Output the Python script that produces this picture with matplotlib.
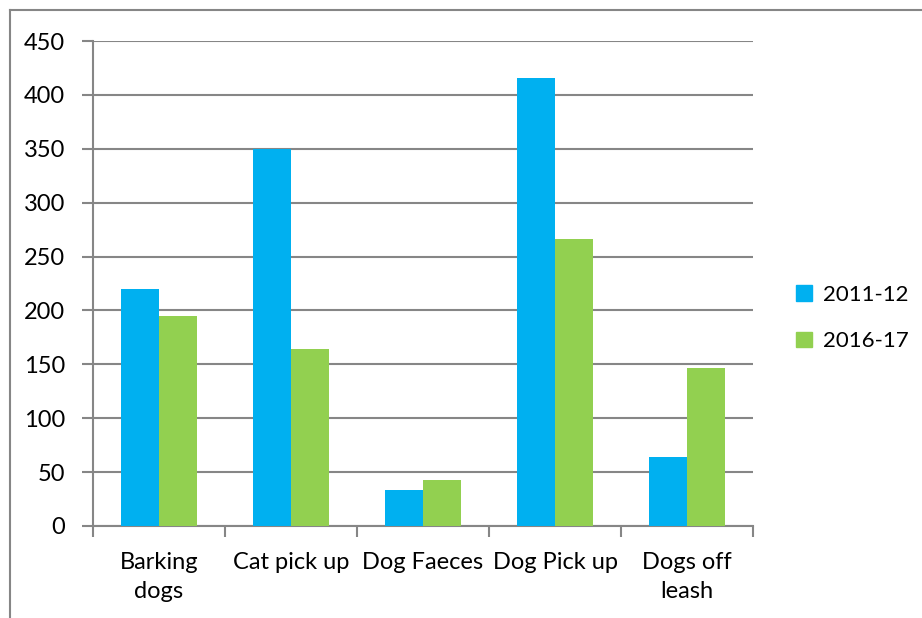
import numpy as np
import matplotlib.pyplot as plt
from matplotlib.patches import Patch
from matplotlib.lines import Line2D

# data
categories = ['Barking\ndogs', 'Cat pick up', 'Dog Faeces', 'Dog Pick up', 'Dogs off\nleash']
series_names = ['2011-12', '2016-17']
values_2011 = [220, 350, 33, 416, 64]
values_2016 = [195, 164, 43, 266, 147]
colors = ['#00B0F0', '#92D050']

plt.rcParams['font.family'] = ['Lato', 'DejaVu Sans']
grid_col = '#868686'

fig = plt.figure(figsize=(9.22, 6.18), dpi=100)
ax = fig.add_axes([93 / 922, 1 - 526 / 618, 660 / 922, 485 / 618])

x = np.arange(len(categories))
w = 1 / 3.5
ax.bar(x - w / 2, values_2011, w, color=colors[0], zorder=3, label=series_names[0])
ax.bar(x + w / 2, values_2016, w, color=colors[1], zorder=3, label=series_names[1])

ax.set_xlim(-0.5, len(categories) - 0.5)
ax.set_ylim(0, 450)
ax.set_yticks(np.arange(0, 451, 50))
ax.yaxis.grid(True, color=grid_col, linewidth=1.5, zorder=0)

# category labels centred, tick marks at boundaries
ax.set_xticks(x)
ax.set_xticklabels(categories, fontsize=17, linespacing=1.45)
ax.tick_params(axis='x', length=0, pad=19)
ax.set_xticks(np.arange(-0.5, len(categories)), minor=True)
ax.tick_params(axis='x', which='minor', length=8, width=1.5, color=grid_col)
ax.tick_params(axis='y', length=8, width=1.5, color=grid_col, labelsize=17, pad=12)

for s in ['top', 'right']:
    ax.spines[s].set_visible(False)
for s in ['left', 'bottom']:
    ax.spines[s].set_color(grid_col)
    ax.spines[s].set_linewidth(1.5)

handles = [Patch(color=c) for c in colors]
fig.legend(handles, series_names, loc='center left', bbox_to_anchor=(796 / 922, 1 - 318 / 618),
           frameon=False, fontsize=16, handlelength=0.7, handleheight=0.7,
           handletextpad=0.5, labelspacing=1.2, borderpad=0, borderaxespad=0)

# outer frame (chart area border, partly cut off)
fig.add_artist(Line2D([10 / 922, 10 / 922], [0, 1 - 10 / 618], color=grid_col, lw=1.5))
fig.add_artist(Line2D([10 / 922, 1], [1 - 10 / 618, 1 - 10 / 618], color=grid_col, lw=1.5))

fig.savefig('out.png', dpi=100)
